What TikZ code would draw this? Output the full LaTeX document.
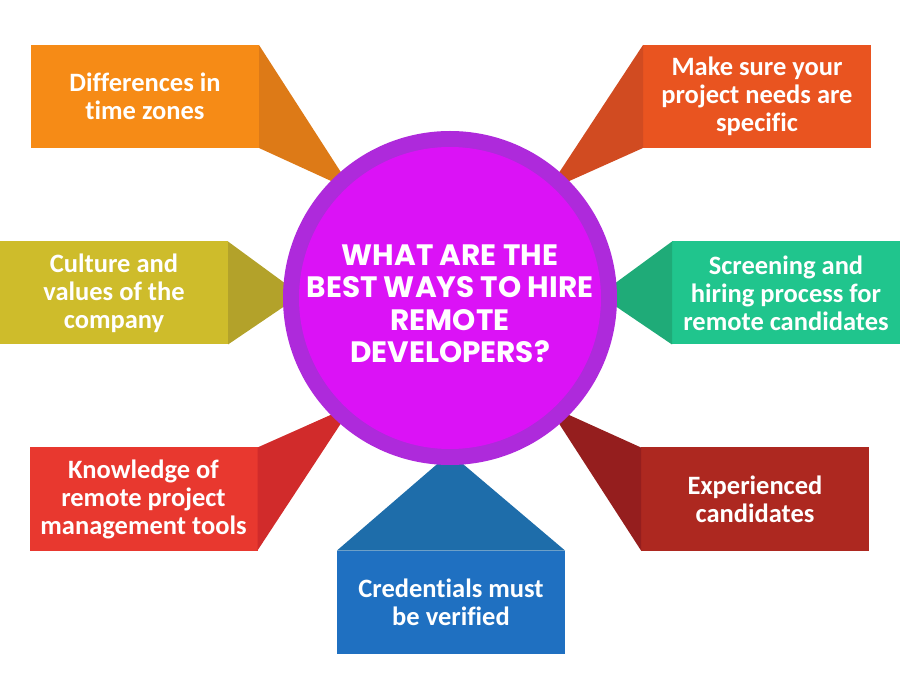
\documentclass[tikz,border=0pt]{standalone}
\usepackage{fontspec}
\setmainfont{Carlito}[Ligatures=NoCommon]
\newfontfamily\hwTitleFont{Poppins}
\usetikzlibrary{positioning}
\definecolor{hwOrange}{HTML}{F68B16}
\definecolor{hwOrangeD}{HTML}{DD7A17}
\definecolor{hwVermil}{HTML}{E95420}
\definecolor{hwVermilD}{HTML}{D14B21}
\definecolor{hwOlive}{HTML}{CEBC2B}
\definecolor{hwOliveD}{HTML}{B3A22A}
\definecolor{hwGreen}{HTML}{20C58D}
\definecolor{hwGreenD}{HTML}{1FAB78}
\definecolor{hwRed}{HTML}{E8382F}
\definecolor{hwRedD}{HTML}{D12B2B}
\definecolor{hwBrick}{HTML}{AD2820}
\definecolor{hwBrickD}{HTML}{951E1E}
\definecolor{hwBlue}{HTML}{1F70C1}
\definecolor{hwBlueD}{HTML}{1E6DAA}
\definecolor{hwRing}{HTML}{AE2ADB}
\definecolor{hwCore}{HTML}{DB12F6}
\tikzset{
 hire/.style={line join=miter},
 tipbox/.style={rectangle,minimum width=228pt,minimum height=103pt,inner sep=0pt,outer sep=0pt,
   text=white,align=center,font=\bfseries\fontsize{26.5}{28}\selectfont},
 hub/.style={circle,fill=hwRing,minimum size=334pt,inner sep=0pt,outer sep=0pt},
 hubcore/.style={circle,fill=hwCore,minimum size=302pt,inner sep=0pt,outer sep=0pt},
 hubtext/.style={text=white,align=center,inner sep=0pt,
   font=\hwTitleFont\bfseries\fontsize{29.5}{32.5}\selectfont}
}
\begin{document}
\begin{tikzpicture}[hire,x=1pt,y=-1pt]
 \useasboundingbox (0,0) rectangle (900,700);
 % the seven boxes
 \node[tipbox,fill=hwOrange] (tz) at (145,96.5) {Differences in\\time zones};
 \node[tipbox,fill=hwVermil] (spec) at (757,96.5) {Make sure your\\project needs are\\specific};
 \node[tipbox,fill=hwOlive] (cult) at (114,293) {Culture and\\values of the\\company};
 \node[tipbox,fill=hwGreen] (scr) at (786,293) {Screening and\\hiring process for\\remote candidates};
 \node[tipbox,fill=hwRed] (know) at (143.5,499) {Knowledge of\\remote project\\management tools};
 \node[tipbox,fill=hwBrick] (exp) at (755,499) {Experienced\\candidates};
 \node[tipbox,fill=hwBlue] (cred) at (451,602) {Credentials must\\be verified};
 % tips pointing at the hub
 \coordinate (tzTip) at (353,191); \coordinate (specTip) at (547,191);
 \coordinate (cultTip) at (301,295); \coordinate (scrTip) at (599,295);
 \coordinate (knowTip) at (353,405); \coordinate (expTip) at (547,405);
 \coordinate (credTip) at (450,453);
 \fill[hwOrangeD] (tz.north east)--(tzTip)--(tz.south east)--cycle;
 \fill[hwVermilD] (spec.north west)--(specTip)--(spec.south west)--cycle;
 \fill[hwOliveD] (cult.north east)--(cultTip)--(cult.south east)--cycle;
 \fill[hwGreenD] (scr.north west)--(scrTip)--(scr.south west)--cycle;
 \fill[hwRedD] (know.north east)--(knowTip)--(know.south east)--cycle;
 \fill[hwBrickD] (exp.north west)--(expTip)--(exp.south west)--cycle;
 \fill[hwBlueD] (cred.north west)--(credTip)--(cred.north east)--cycle;
 % hub
 \node[hub] (ring) at (450,298) {};
 \node[hubcore] (core) at (ring.center) {};
 \node[hubtext,yshift=-6pt] (q) at (core.center) {WHAT ARE THE\\BEST WAYS TO HIRE\\REMOTE\\DEVELOPERS?};
\end{tikzpicture}
\end{document}
